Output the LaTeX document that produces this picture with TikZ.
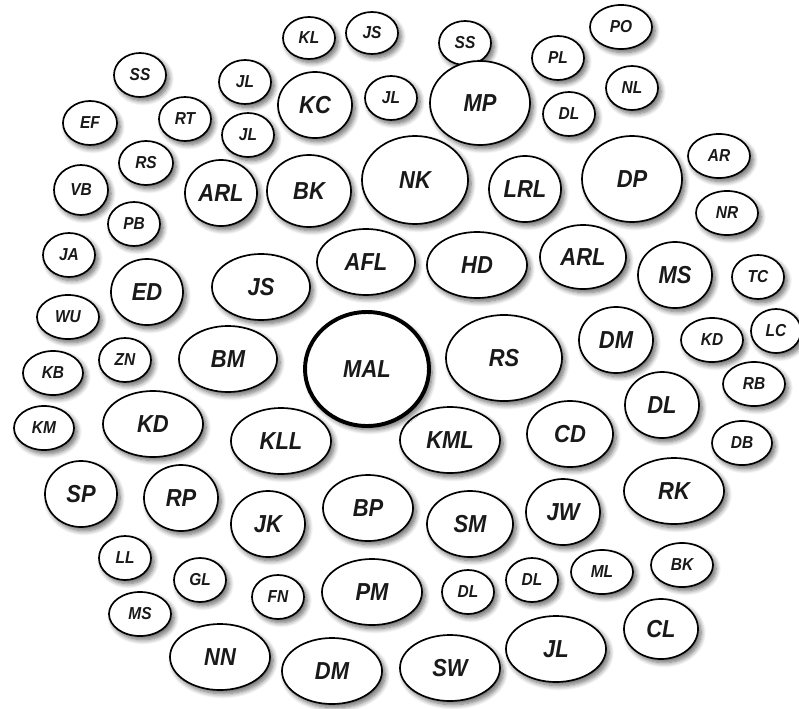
\documentclass[tikz,border=0pt]{standalone}
\usepackage{fontspec}
\setsansfont{Liberation Sans}
\usetikzlibrary{shapes.geometric,shadows.blur}

\tikzset{
  bub/.style={ellipse, draw=black, fill=white, line width=1.2pt, inner sep=0pt,
    blur shadow={shadow xshift=2.2pt, shadow yshift=-2.6pt, shadow blur steps=8,
      shadow opacity=60, shadow blur radius=3.5pt},
    text=black!90},
  smallbub/.style={bub, font=\sffamily\bfseries\itshape\fontsize{11}{11}\selectfont},
  bigbub/.style={bub, font=\sffamily\bfseries\itshape\fontsize{15.6}{16}\selectfont},
}
\newcommand\tall[1]{\scalebox{1}[1.12]{#1}}

\begin{document}
\begin{tikzpicture}[x=0.025cm, y=-0.025cm]
  \useasboundingbox (0,0) rectangle (799,708);
  % --- small bubbles -------------------------------------------------
  \foreach \t/\x/\y/\a/\b [count=\i] in {
      KL/309/38/26/21, JS/372/33/26/21, SS/140/75/26/22, SS/465/43/26/22,
      PO/621/27/31/22, PL/558/58/26/22, JL/245/82/26/22, JL/391/98/26/22,
      JL/248/135/26/22, NL/632/88/26/22, DL/569/114/26/22, EF/90/123/27/22,
      RT/185/119/26/22, RS/146/163/27/22, VB/81/190/27/25, PB/134/224/26/22,
      AR/719/156/31/22, NR/727/213/31/22, JA/69/255/26/22, WU/68/317/31/22,
      ZN/125/360/26/22, TC/758/277/26/22, KD/712/340/31/22, LC/776/331/25/22,
      KB/53/373/30/22, RB/754/384/31/22, KM/44/428/30/22, DB/742/443/30/22,
      LL/125/558/26/22, GL/200/580/26/22, FN/278/597/26/22, MS/140/614/31/22,
      DL/468/592/26/22, DL/532/580/26/22, ML/602/572/31/22, BK/682/565/31/22}
    \node[smallbub, minimum width=\a*0.05cm, minimum height=\b*0.05cm]
      (s\i) at (\x,\y) {\tall{\t}};
  % --- big bubbles ---------------------------------------------------
  \foreach \t/\x/\y/\a/\b [count=\i] in {
      KC/315/105/37/33, BK/309/191/42/36, NK/415/180/53/44, MP/480/103/50/42,
      ARL/221/193/36/33, LRL/525/189/36/33, DP/632/179/50/43, ED/147/292/36/33,
      JS/261/287/49/33, AFL/366/262/49/33, HD/477/265/50/33, ARL/583/257/43/32,
      MS/675/275/37/33, BM/228/359/49/33, RS/504/358/58/43, DM/616/340/37/33,
      KD/153/424/50/33, KLL/281/441/50/33, KML/450/440/50/33, CD/570/434/43/33,
      DL/662/405/37/33, SP/81/494/36/33, RP/181/498/37/33, JK/268/524/37/33,
      BP/368/508/45/33, SM/470/524/43/33, JW/563/512/37/33, RK/674/491/50/33,
      PM/372/592/50/33, NN/220/657/50/33, DM/332/671/50/33, SW/450/668/50/33,
      JL/556/649/50/33, CL/661/629/37/30}
    \node[bigbub, minimum width=\a*0.05cm, minimum height=\b*0.05cm]
      (b\i) at (\x,\y) {\tall{\t}};
  % --- centre ---------------------------------------------------------
  \node[bigbub, line width=2.8pt, minimum width=124*0.025cm, minimum height=114*0.025cm]
    (mal) at (367,369) {\tall{MAL}};
\end{tikzpicture}
\end{document}
